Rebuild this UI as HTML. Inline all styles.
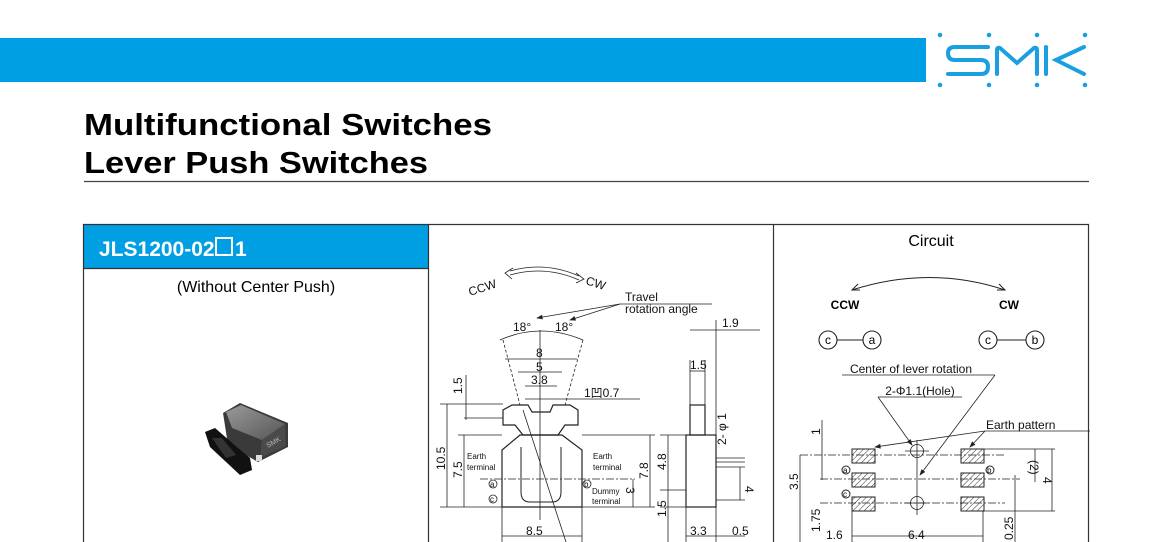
<!DOCTYPE html>
<html><head><meta charset="utf-8"><style>
html,body{margin:0;padding:0;background:#fff;}
svg{display:block;font-family:"Liberation Sans",Arial,sans-serif;}
</style></head><body>
<svg width="1150" height="542" viewBox="0 0 1150 542" xmlns="http://www.w3.org/2000/svg">
<defs>
<pattern id="h" width="4" height="4" patternUnits="userSpaceOnUse" patternTransform="rotate(45)"><line x1="0" y1="0" x2="0" y2="4" stroke="#333" stroke-width="1"/></pattern>
<marker id="ar" markerWidth="8" markerHeight="6" refX="7" refY="3" orient="auto"><path d="M0,0 L8,3 L0,6" fill="#222"/></marker>
<linearGradient id="gb" x1="0" y1="0" x2="1" y2="1"><stop offset="0" stop-color="#9a9a9a"/><stop offset="1" stop-color="#555"/></linearGradient>
</defs>
<rect x="0" y="38" width="926" height="44" fill="#009fe3"/>
<g fill="#1aa0e0">
<circle cx="940" cy="35" r="2.3"/><circle cx="989" cy="35" r="2.3"/><circle cx="1037" cy="35" r="2.3"/><circle cx="1085" cy="35" r="2.3"/>
<circle cx="940" cy="85" r="2.3"/><circle cx="989" cy="85" r="2.3"/><circle cx="1037" cy="85" r="2.3"/><circle cx="1085" cy="85" r="2.3"/>
</g>
<g fill="none" stroke="#1aa0e0" stroke-width="4" stroke-linecap="round">
<path d="M988,47 H955 Q948,47 948,53 Q948,60 955,60 H981 Q988,60 988,67 Q988,74 981,74 H948"/>
<path d="M997,74 V50 Q997,47 1000,48 L1017,63 L1034,48 Q1037,47 1037,50 V74"/>
<path d="M1046,47 V74 M1084,47 L1056,60 L1084,74"/>
</g>
<text x="84" y="135" font-size="31" font-weight="bold" textLength="408" lengthAdjust="spacingAndGlyphs">Multifunctional Switches</text>
<text x="84" y="173" font-size="31" font-weight="bold" textLength="344" lengthAdjust="spacingAndGlyphs">Lever Push Switches</text>
<line x1="84" y1="181.5" x2="1089" y2="181.5" stroke="#444" stroke-width="1.2"/>
<rect x="84" y="225" width="344" height="43" fill="#009fe3"/>
<text x="99" y="256" font-size="21" font-weight="bold" fill="#fff">JLS1200-02</text>
<rect x="216" y="238" width="16" height="17" fill="none" stroke="#fff" stroke-width="2"/>
<text x="235" y="256" font-size="21" font-weight="bold" fill="#fff">1</text>
<g stroke="#333" stroke-width="1.2" fill="none">
<path d="M83.5,542 V224.5 H1088.5 V542"/>
<line x1="428.5" y1="225" x2="428.5" y2="542"/>
<line x1="773.5" y1="225" x2="773.5" y2="542"/>
<line x1="84" y1="268.5" x2="428" y2="268.5"/>
</g>
<text x="256" y="292" font-size="16" text-anchor="middle">(Without Center Push)</text>
<!-- product photo -->
<g>
<path d="M223,413 L240,403 L288,423 L288,447 L258,462 L228,445 Z" fill="#3a3a3a"/>
<path d="M226,412 L241,405 L285,424 L262,440 L232,428 Z" fill="url(#gb)"/>
<path d="M262,440 L285,424 L286,446 L260,458 Z" fill="#4a4a4a"/>
<text x="268" y="448" font-size="7" fill="#bbb" transform="rotate(-30 268 448)">SMK</text>
<path d="M205,432 L215,428 L238,448 L250,458 L252,470 L240,475 L210,447 Z" fill="#111"/>
<path d="M212,438 L222,438 L236,455 L226,458 Z" fill="#333"/>
<rect x="256" y="455" width="6" height="6" fill="#ddd"/>
</g>
<!-- middle drawing -->
<g stroke="#222" stroke-width="0.8" fill="none">
<path d="M510,271 Q545,261 579,276 M510,275 Q545,265 579,280"/>
<path d="M513,268 L505,273 L512,279 M576,273 L584,279 L576,283"/>
<line x1="620" y1="304" x2="712" y2="304"/>
<line x1="620" y1="304" x2="537" y2="318" marker-end="url(#ar)"/>
<line x1="620" y1="304" x2="570" y2="320" marker-end="url(#ar)"/>
<path d="M500,340 Q540,322 583,340"/>
<line x1="540" y1="330" x2="540" y2="520"/>
<line x1="503" y1="340" x2="520" y2="405" stroke-dasharray="3,2"/>
<line x1="583" y1="340" x2="565" y2="405" stroke-dasharray="3,2"/>
<line x1="505" y1="359" x2="577" y2="359"/><line x1="518" y1="372" x2="562" y2="372"/><line x1="525" y1="386" x2="557" y2="386"/>
<line x1="525" y1="399" x2="640" y2="399"/>
<path d="M503,425 L503,410 L512,405 L528,405 L532,412 L550,412 L553,405 L570,405 L578,410 L578,425 L565,425 L558,435 L523,435 L515,425 Z" stroke-width="1.2"/>
<path d="M502,507 L502,450 L520,435 L562,435 L582,450 L582,507 Z" stroke-width="1.2"/>
<path d="M521,447 V492 Q521,502 530,502 H552 Q561,502 561,492 V447" stroke-width="1"/>
<line x1="440" y1="404" x2="503" y2="404"/><line x1="440" y1="507" x2="502" y2="507"/>
<line x1="447" y1="404" x2="447" y2="507"/>
<line x1="458" y1="435" x2="502" y2="435"/><line x1="464" y1="435" x2="464" y2="507"/>
<line x1="464" y1="418" x2="503" y2="418"/><line x1="466" y1="375" x2="466" y2="420"/>
<line x1="582" y1="435" x2="655" y2="435"/><line x1="650" y1="435" x2="650" y2="507"/><line x1="582" y1="507" x2="655" y2="507"/>
<line x1="480" y1="479" x2="635" y2="479" stroke-dasharray="8,2,2,2"/>
<line x1="633" y1="479" x2="633" y2="507"/>
<line x1="502" y1="507" x2="502" y2="542"/><line x1="582" y1="507" x2="582" y2="542"/><line x1="502" y1="536" x2="582" y2="536"/>
<line x1="523" y1="410" x2="566" y2="542"/>
<circle cx="493" cy="484" r="4"/><circle cx="493" cy="499" r="4"/><circle cx="587" cy="484" r="4"/>
<rect x="690" y="405" width="15" height="30" stroke-width="1.2"/>
<rect x="686" y="435" width="30" height="72" stroke-width="1.2"/>
<line x1="690" y1="330" x2="710" y2="330"/><line x1="710" y1="330" x2="760" y2="330"/>
<line x1="690" y1="371" x2="705" y2="371"/>
<line x1="690" y1="360" x2="690" y2="405"/><line x1="705" y1="360" x2="705" y2="405"/><line x1="716" y1="320" x2="716" y2="542"/>
<line x1="660" y1="435" x2="686" y2="435"/><line x1="668" y1="435" x2="668" y2="490"/><line x1="660" y1="490" x2="686" y2="490"/><line x1="668" y1="490" x2="668" y2="542"/><line x1="660" y1="507" x2="686" y2="507"/>
<line x1="716" y1="458" x2="745" y2="458"/><line x1="716" y1="462" x2="745" y2="462"/>
<line x1="716" y1="467" x2="745" y2="467"/><line x1="716" y1="500" x2="745" y2="500"/><line x1="740" y1="467" x2="740" y2="500"/>
<line x1="686" y1="507" x2="686" y2="542"/><line x1="686" y1="536" x2="716" y2="536"/><line x1="716" y1="536" x2="745" y2="536"/>
</g>
<g font-size="12" fill="#111">
<text x="470" y="296" transform="rotate(-18 470 296)">CCW</text>
<text x="585" y="284" transform="rotate(18 585 284)">CW</text>
<text x="625" y="301">Travel</text><text x="625" y="313">rotation angle</text>
<text x="513" y="331">18°</text><text x="555" y="331">18°</text>
<text x="536" y="357">8</text><text x="536" y="371">5</text><text x="531" y="384">3.8</text>
<text x="584" y="397">1凹0.7</text>
<text x="722" y="327">1.9</text><text x="690" y="369">1.5</text>
<text x="526" y="535">8.5</text><text x="690" y="535">3.3</text><text x="732" y="535">0.5</text>
<text transform="translate(445,470) rotate(-90)">10.5</text>
<text transform="translate(462,478) rotate(-90)">7.5</text>
<text transform="translate(462,394) rotate(-90)">1.5</text>
<text transform="translate(648,479) rotate(-90)">7.8</text>
<text transform="translate(666,470) rotate(-90)">4.8</text>
<text transform="translate(666,517) rotate(-90)">1.5</text>
<text transform="translate(726,445) rotate(-90)">2- φ 1</text>
<text transform="translate(745,486) rotate(90)">4</text>
<text transform="translate(626,487) rotate(90)">3</text>
</g>
<g font-size="8" fill="#111">
<text x="467" y="459">Earth</text><text x="467" y="470">terminal</text>
<text x="593" y="459">Earth</text><text x="593" y="470">terminal</text>
<text x="592" y="494">Dummy</text><text x="592" y="504">terminal</text>
<text x="490" y="487">a</text><text x="490" y="502">c</text><text x="584" y="487">b</text>
</g>
<text x="931" y="246" font-size="16" text-anchor="middle">Circuit</text>
<path d="M852,290 Q930,265 1005,290" stroke="#222" fill="none" stroke-width="1"/>
<path d="M858,284 L852,290 L860,290 M999,284 L1005,290 L997,290" stroke="#222" fill="none"/>
<text x="845" y="309" font-size="12" font-weight="bold" text-anchor="middle">CCW</text>
<text x="1009" y="309" font-size="12" font-weight="bold" text-anchor="middle">CW</text>
<g stroke="#222" fill="none" stroke-width="1.1">
<circle cx="828" cy="340" r="9"/><circle cx="872" cy="340" r="9"/><line x1="837" y1="340" x2="863" y2="340"/>
<circle cx="988" cy="340" r="9"/><circle cx="1035" cy="340" r="9"/><line x1="997" y1="340" x2="1026" y2="340"/>
</g>
<g font-size="12" text-anchor="middle">
<text x="828" y="344">c</text><text x="872" y="344">a</text><text x="988" y="344">c</text><text x="1035" y="344">b</text>
</g>
<g stroke="#222" stroke-width="0.8" fill="none">
<line x1="842" y1="375" x2="995" y2="375"/><line x1="995" y1="375" x2="920" y2="475" marker-end="url(#ar)"/>
<line x1="878" y1="397" x2="962" y2="397"/><line x1="878" y1="397" x2="912" y2="445" marker-end="url(#ar)"/>
<line x1="985" y1="431" x2="1090" y2="431"/><line x1="985" y1="431" x2="875" y2="447" marker-end="url(#ar)"/><line x1="985" y1="431" x2="970" y2="447" marker-end="url(#ar)"/>
<circle cx="917" cy="451" r="6.5"/><circle cx="917" cy="503" r="6.5"/>
<line x1="917" y1="440" x2="917" y2="515"/><line x1="905" y1="451" x2="929" y2="451"/><line x1="905" y1="503" x2="929" y2="503"/>
<line x1="800" y1="455" x2="1005" y2="455" stroke-dasharray="8,2,2,2"/>
<line x1="820" y1="479" x2="1020" y2="479" stroke-dasharray="8,2,2,2"/>
<line x1="820" y1="503" x2="1005" y2="503" stroke-dasharray="8,2,2,2"/>
<line x1="800" y1="455" x2="800" y2="503"/><line x1="822" y1="420" x2="822" y2="480"/>
<line x1="800" y1="503" x2="800" y2="542"/>
<line x1="852" y1="511" x2="852" y2="542"/><line x1="852" y1="536" x2="983" y2="536"/><line x1="983" y1="511" x2="983" y2="542"/>
<line x1="984" y1="449" x2="1055" y2="449"/><line x1="984" y1="511" x2="1055" y2="511"/><line x1="1052" y1="449" x2="1052" y2="511"/>
<line x1="1035" y1="449" x2="1035" y2="482"/><line x1="1015" y1="475" x2="1015" y2="542"/>
</g>
<g fill="url(#h)" stroke="#222" stroke-width="1">
<rect x="852" y="449" width="23" height="14"/><rect x="852" y="473" width="23" height="14"/><rect x="852" y="497" width="23" height="14"/>
<rect x="961" y="449" width="23" height="14"/><rect x="961" y="473" width="23" height="14"/><rect x="961" y="497" width="23" height="14"/>
</g>
<g font-size="12" fill="#111">
<text x="911" y="373" text-anchor="middle">Center of lever rotation</text>
<text x="920" y="395" text-anchor="middle">2-Φ1.1(Hole)</text>
<text x="986" y="429">Earth pattern</text>
<text x="826" y="539">1.6</text><text x="908" y="539">6.4</text>
<text transform="translate(798,490) rotate(-90)">3.5</text>
<text transform="translate(820,532) rotate(-90)">1.75</text>
<text transform="translate(820,435) rotate(-90)">1</text>
<text transform="translate(1013,540) rotate(-90)">0.25</text>
<text transform="translate(1030,460) rotate(90)">(2)</text>
<text transform="translate(1043,477) rotate(90)">4</text>
</g>
<g font-size="8"><circle cx="846" cy="470" r="4" fill="none" stroke="#222"/><text x="843" y="473">a</text>
<circle cx="846" cy="494" r="4" fill="none" stroke="#222"/><text x="843" y="497">c</text>
<circle cx="990" cy="470" r="4" fill="none" stroke="#222"/><text x="987" y="473">b</text></g>
</svg>
</body></html>
